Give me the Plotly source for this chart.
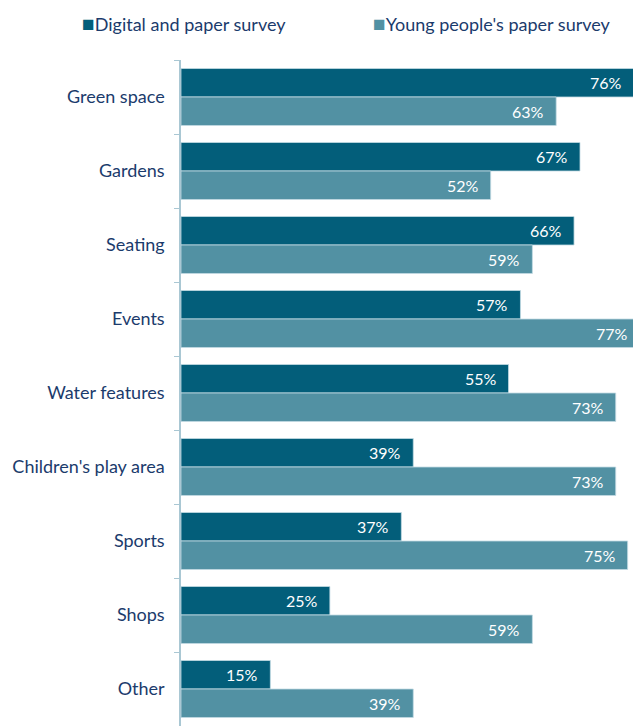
import plotly.graph_objects as go

categories = ["Green space", "Gardens", "Seating", "Events", "Water features",
              "Children's play area", "Sports", "Shops", "Other"]
digital_paper = [76, 67, 66, 57, 55, 39, 37, 25, 15]
young_people = [63, 52, 59, 77, 73, 73, 75, 59, 39]

DARK = "#035e7a"
LIGHT = "#5291a3"
NAVY = "#1b3b6c"
AXIS = "#a9c7d3"
FONT = "Lato, Open Sans, sans-serif"

W, H = 633, 726
M = dict(l=181, r=0, t=60, b=0)
BARGAP = 0.23
XMAX = 75.9

series = [("Digital and paper survey", digital_paper, DARK),
          ("Young people's paper survey", young_people, LIGHT)]

fig = go.Figure()
for name, vals, col in series:
    fig.add_trace(go.Bar(
        name=name, y=categories, x=vals, orientation="h",
        marker=dict(color=col, line=dict(color="#c3dae3", width=0.8)),
        cliponaxis=True,
    ))

fig.update_layout(
    width=W, height=H, margin=M,
    barmode="group", bargap=BARGAP, bargroupgap=0,
    plot_bgcolor="white", paper_bgcolor="white",
    showlegend=False,
    font=dict(family=FONT, color=NAVY, size=18),
)
fig.update_xaxes(range=[0, XMAX], visible=False, showgrid=False)
fig.update_yaxes(
    autorange=False, range=[8.5, -0.5], type="category",
    showline=True, linecolor=AXIS, linewidth=1.5,
    ticks="outside", tickson="boundaries", ticklen=5, tickcolor=AXIS,
    ticklabelstandoff=11, showgrid=False,
    tickfont=dict(size=18, color=NAVY, family=FONT),
)

# value labels just inside the end of each bar (x in paper units so that
# labels of bars running past the right edge are still drawn)
band = (H - M["t"] - M["b"]) / len(categories)
offset = (1 - BARGAP) / 4 * band
for k, (name, vals, col) in enumerate(series):
    shift = offset if k == 0 else -offset
    for cat, v in zip(categories, vals):
        fig.add_annotation(
            x=v / XMAX, y=cat, xref="paper", yref="y",
            xanchor="right", yanchor="middle",
            xshift=-10, yshift=shift, showarrow=False, text=f"{v}%",
            font=dict(size=16, color="white", family=FONT),
        )

# legend drawn as coloured squares followed by text
legend_items = [(80, "Digital and paper survey", DARK),
                (371, "Young people's paper survey", LIGHT)]
pw, ph = W - M["l"], H - M["t"]
for px, label, col in legend_items:
    fig.add_annotation(
        x=(px - M["l"]) / pw, y=1 + (M["t"] - 22) / ph, xref="paper", yref="paper",
        xanchor="left", yanchor="middle", showarrow=False,
        text=f"<span style='color:{col};font-size:21px'>■</span>{label}",
        font=dict(size=18, color=NAVY, family=FONT),
    )

fig.write_html("out.html")
